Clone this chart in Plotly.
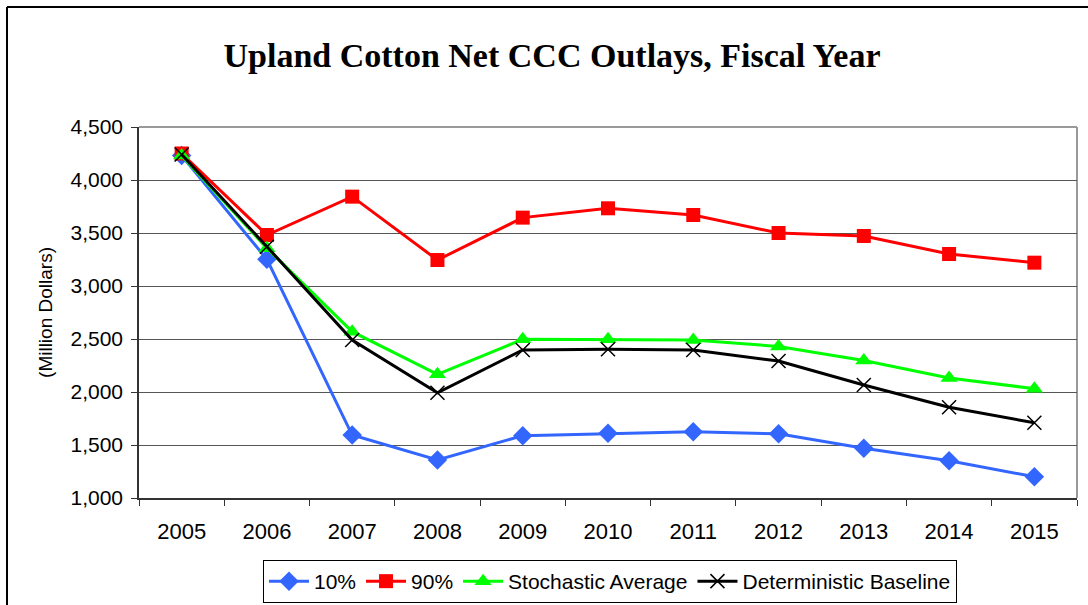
import plotly.graph_objects as go

years = ["2005", "2006", "2007", "2008", "2009", "2010", "2011", "2012", "2013", "2014", "2015"]
p10 = [4230, 3252, 1594, 1358, 1588, 1610, 1625, 1605, 1469, 1352, 1200]
p90 = [4250, 3481, 3843, 3245, 3645, 3733, 3670, 3500, 3472, 3302, 3220]
stoch_avg = [4230, 3356, 2569, 2167, 2497, 2497, 2490, 2430, 2297, 2133, 2031]
det_base = [4240, 3371, 2490, 1993, 2396, 2403, 2396, 2292, 2066, 1856, 1710]
y_ticks = [1000, 1500, 2000, 2500, 3000, 3500, 4000, 4500]
y_tick_text = ["1,000", "1,500", "2,000", "2,500", "3,000", "3,500", "4,000", "4,500"]

fig = go.Figure()
fig.add_trace(go.Scatter(x=years, y=p10, name="10%", mode="lines+markers",
                         line=dict(color="#3366FF", width=3),
                         marker=dict(symbol="diamond", size=15, color="#3366FF")))
fig.add_trace(go.Scatter(x=years, y=p90, name="90%", mode="lines+markers",
                         line=dict(color="#FF0000", width=3),
                         marker=dict(symbol="square", size=14, color="#FF0000")))
fig.add_trace(go.Scatter(x=years, y=stoch_avg, name="Stochastic Average", mode="lines+markers",
                         line=dict(color="#00FF00", width=3),
                         marker=dict(symbol="triangle-up", size=15, color="#00FF00")))
fig.add_trace(go.Scatter(x=years, y=det_base, name="Deterministic Baseline", mode="lines+markers",
                         line=dict(color="#000000", width=3),
                         marker=dict(symbol="x-thin-open", size=14,
                                     line=dict(color="#000000", width=1.5))))

L, R, T, B = 139, 11, 127, 107
W, H = 1088, 605
pw, ph = W - L - R, H - T - B

fig.update_layout(
    width=W, height=H,
    margin=dict(l=L, r=R, t=T, b=B, autoexpand=False),
    paper_bgcolor="white", plot_bgcolor="white",
    font=dict(family="Liberation Sans, Arial", size=21, color="black"),
    title=dict(text="<b>Upland Cotton Net CCC Outlays, Fiscal Year</b>",
               font=dict(family="Liberation Serif, Times New Roman", size=34, color="black"),
               x=552 / W, xref="container", xanchor="center",
               y=1 - 55 / H, yref="container", yanchor="middle"),
    showlegend=True,
    legend=dict(orientation="h", x=(610 - L) / pw, xanchor="center",
                y=1 - 560 / H, yref="container", yanchor="top",
                bordercolor="black", borderwidth=1,
                font=dict(size=21, family="Liberation Sans, Arial"),
                itemwidth=40, tracegroupgap=0),
    xaxis=dict(type="category", range=[-0.5, 10.5], automargin=False,
               showgrid=False, showline=True, linecolor="#333333", linewidth=1.5,
               ticks="outside", tickson="boundaries", ticklen=6, tickcolor="#333333",
               ticklabelstandoff=13, tickfont=dict(size=22)),
    yaxis=dict(range=[1000, 4500], tickvals=y_ticks, ticktext=y_tick_text, automargin=False,
               showgrid=True, gridcolor="#555555", gridwidth=1,
               showline=True, linecolor="#333333", linewidth=1.5,
               ticks="outside", ticklen=6, tickcolor="#333333",
               ticklabelstandoff=4, tickfont=dict(size=21),
               zeroline=False,
               title=dict(text="(Million Dollars)", font=dict(size=19), standoff=13)),
)

# plot area border (top and right gray)
fig.add_shape(type="line", xref="paper", yref="paper", x0=0, x1=1, y0=1, y1=1,
              line=dict(color="#999999", width=2), layer="below")
fig.add_shape(type="line", xref="paper", yref="paper", x0=1, x1=1, y0=0, y1=1,
              line=dict(color="#999999", width=2), layer="below")
# outer chart frame (left and top)
fx0 = (7 - L) / pw
fy1 = 1 + (T - 7) / ph
fig.add_shape(type="line", xref="paper", yref="paper", x0=fx0, x1=fx0, y0=-(H - T) / ph, y1=fy1,
              line=dict(color="black", width=2))
fig.add_shape(type="line", xref="paper", yref="paper", x0=fx0, x1=(W - L) / pw, y0=fy1, y1=fy1,
              line=dict(color="black", width=2))

fig.write_html("out.html", config={"displayModeBar": False},
               post_script="document.body.style.margin='0';")
